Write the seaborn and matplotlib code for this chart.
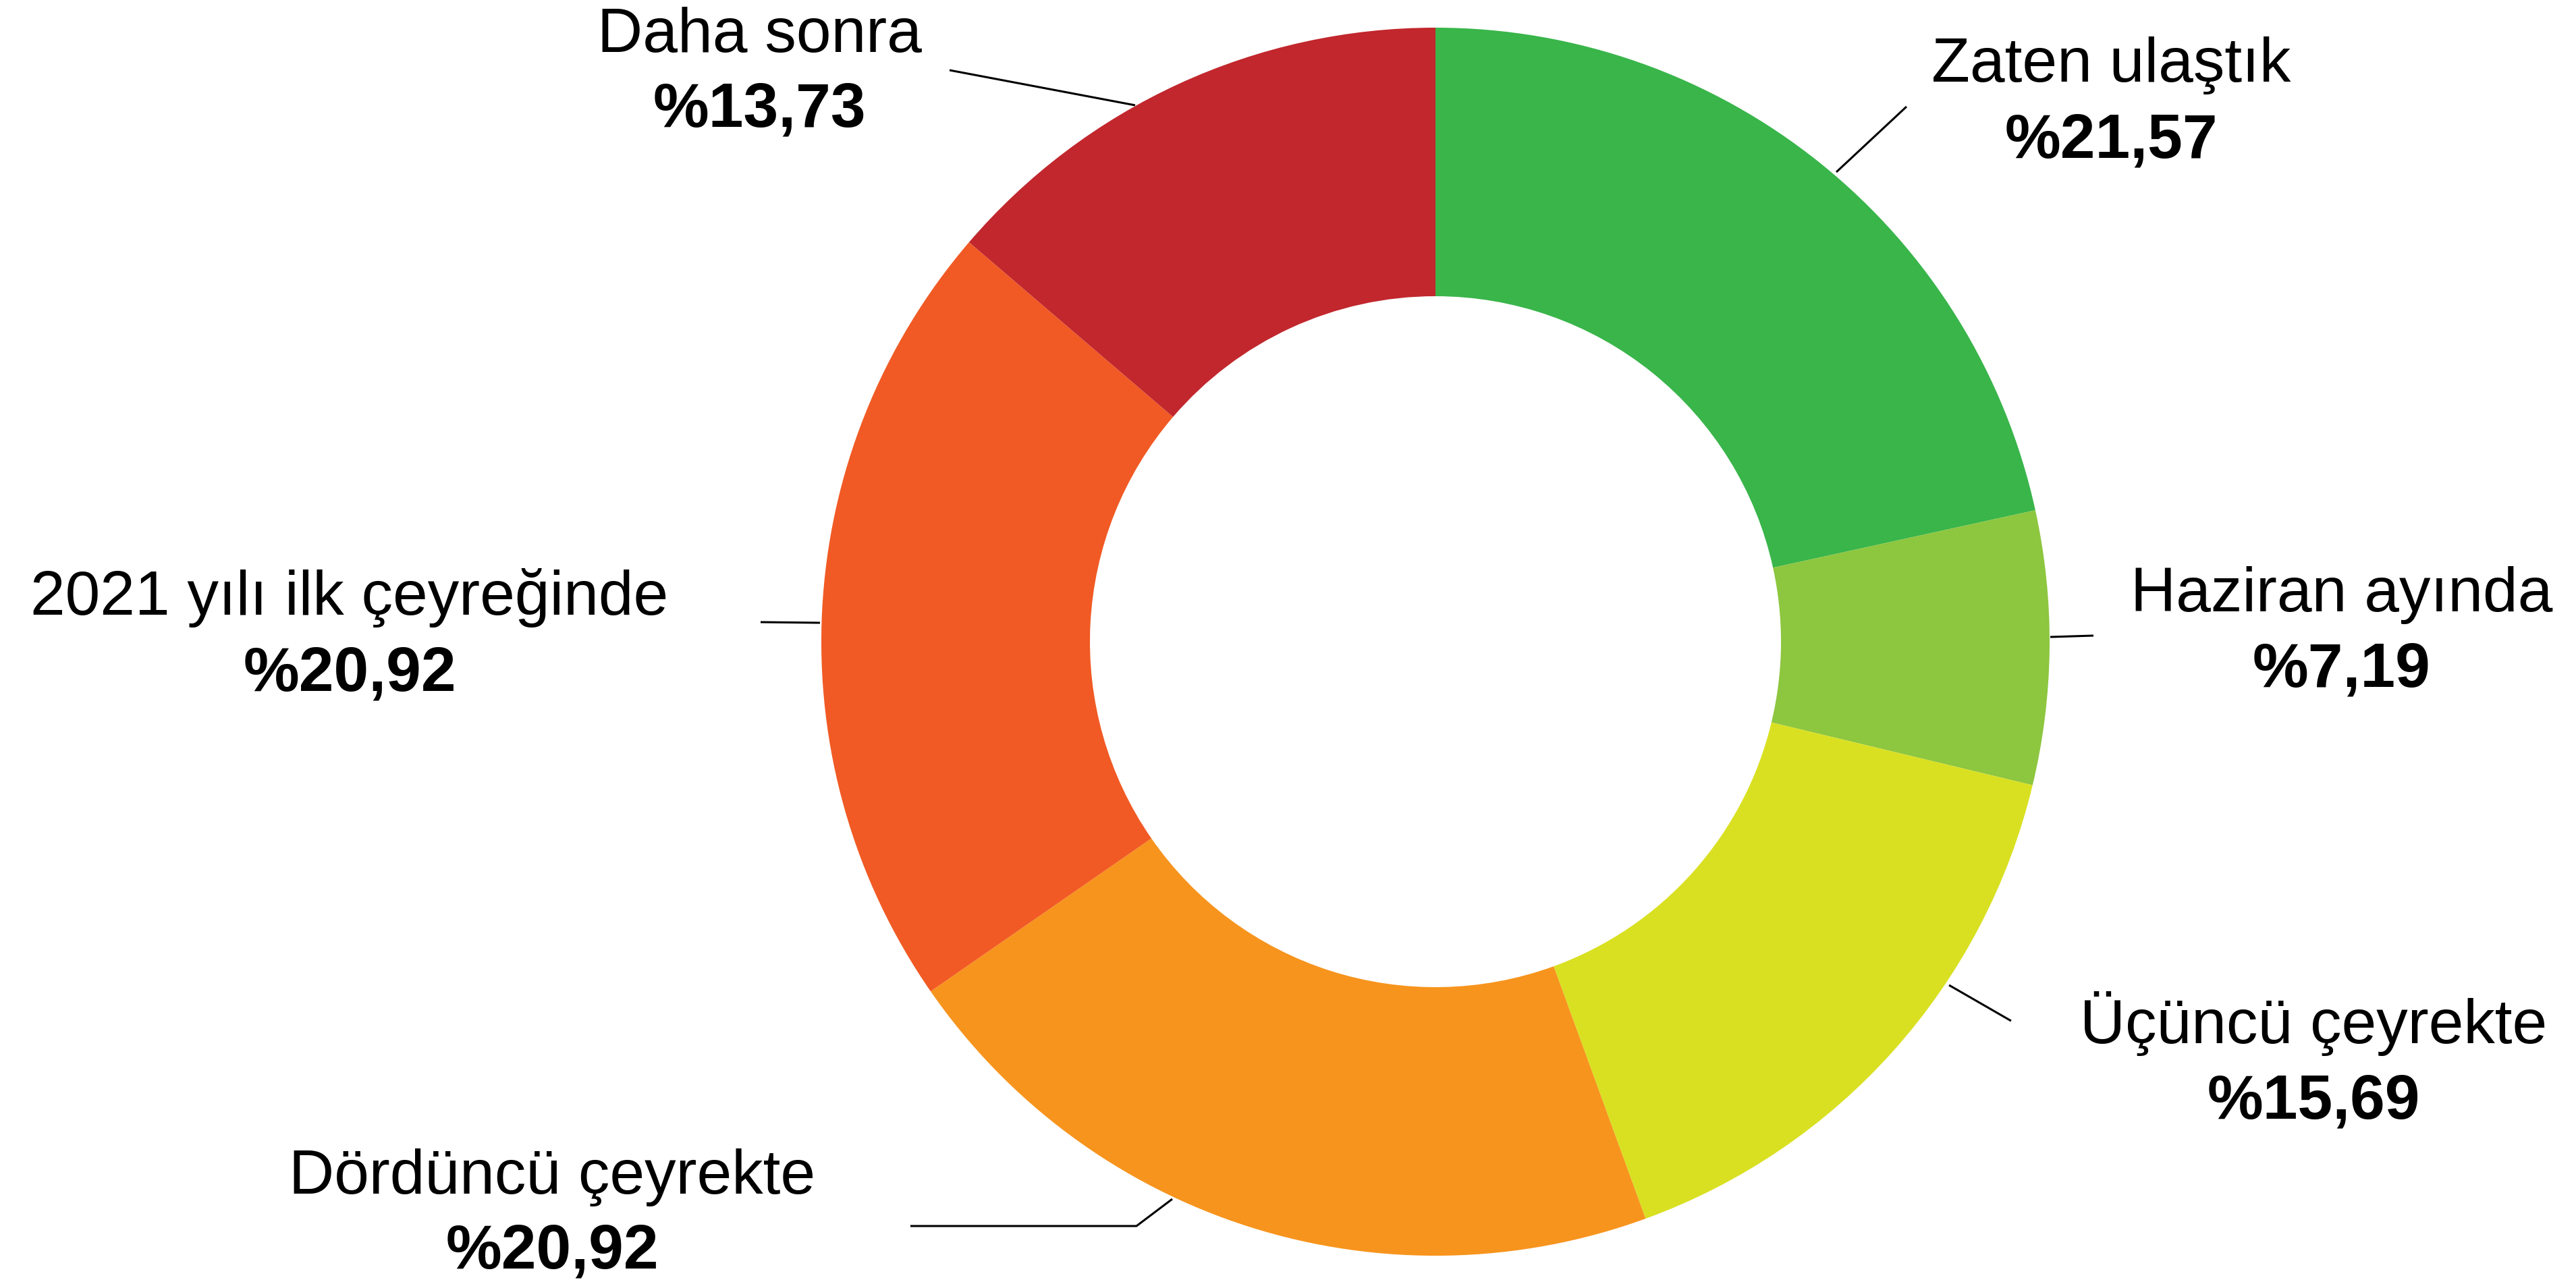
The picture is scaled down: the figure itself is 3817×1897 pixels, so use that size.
import matplotlib
matplotlib.use("Agg")
import matplotlib.pyplot as plt
import seaborn as sns

# data
categories = ["Zaten ulaştık", "Haziran ayında", "Üçüncü çeyrekte",
              "Dördüncü çeyrekte", "2021 yılı ilk çeyreğinde", "Daha sonra"]
shares = [21.57, 7.19, 15.69, 20.92, 20.92, 13.73]
slice_colors = ["#39B54A", "#8DC63F", "#D9E021", "#F7941D", "#F15A24", "#C1272D"]

# layout in image pixels: label centre x, baseline of name, baseline of value, leader line
W, H = 3817, 1897
label_layout = [
    (3128, 121, 233, [(2721, 255), (2825, 158)]),
    (3470, 906, 1018, [(3038, 944), (3102, 942)]),
    (3428, 1546, 1658, [(2888, 1460), (2980, 1513)]),
    (818, 1769, 1880, [(1349, 1817), (1684, 1817), (1737, 1777)]),
    (518, 911, 1023, [(1127, 922), (1215, 923)]),
    (1125, 77, 188, [(1407, 104), (1682, 156)]),
]
center_px = (2127, 951)
outer_r, inner_r = 910, 512

sns.set_theme(style="white")
plt.rcParams["font.family"] = ["Liberation Sans", "DejaVu Sans"]

fig = plt.figure(figsize=(W / 100, H / 100), dpi=100)
ax = fig.add_axes([0, 0, 1, 1])

palette = sns.color_palette(slice_colors)
ax.pie(shares, colors=palette, startangle=90, counterclock=False,
       center=(center_px[0], H - center_px[1]), radius=outer_r,
       wedgeprops=dict(width=outer_r - inner_r, linewidth=0))

for name, val, (cx, y1, y2, line) in zip(categories, shares, label_layout):
    xs = [p[0] for p in line]
    ys = [H - p[1] for p in line]
    ax.plot(xs, ys, color="black", lw=2.2, solid_capstyle="butt")
    ax.text(cx, H - y1, name, ha="center", va="baseline", fontsize=67, color="black")
    pct = "%" + f"{val:.2f}".replace(".", ",")
    ax.text(cx, H - y2, pct, ha="center", va="baseline", fontsize=67,
            fontweight="bold", color="black")

ax.set_xlim(0, W)
ax.set_ylim(0, H)
ax.set_aspect("auto")
ax.axis("off")

fig.savefig("out.png", dpi=100, facecolor="white")
